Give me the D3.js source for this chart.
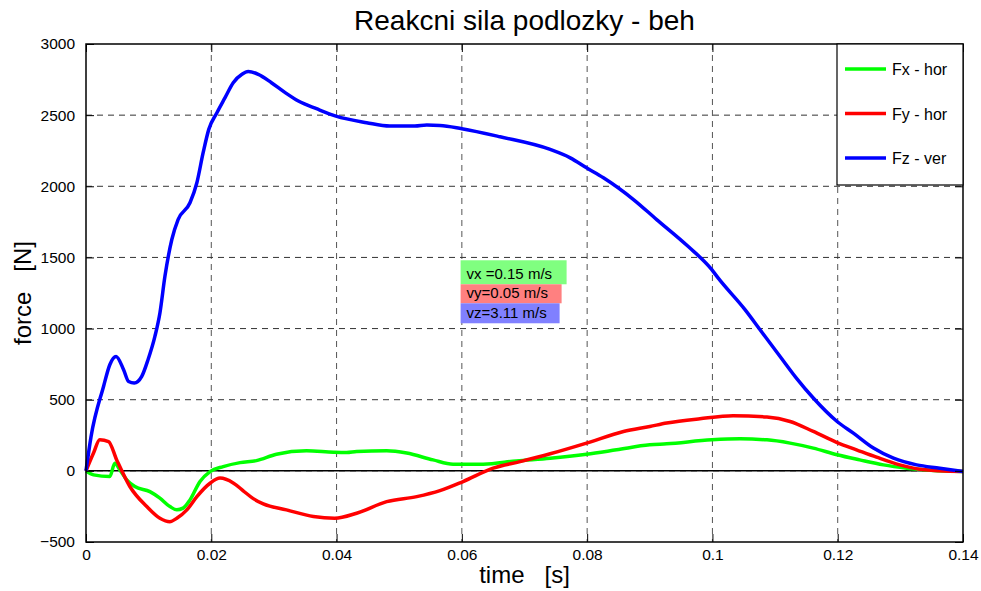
<!DOCTYPE html>
<html>
<head>
<meta charset="utf-8">
<script src="https://cdn.jsdelivr.net/npm/d3@7"></script>
<style>
  body { margin: 0; background: #fff; }
  text { font-family: Arial, "Liberation Sans", sans-serif; }
</style>
</head>
<body>
<div id="chart"></div>
<script>
// Data (time in s, force in N)
var fzTime = [0, 0.0008, 0.0028, 0.0038, 0.0048, 0.006, 0.0068, 0.0077, 0.0089, 0.0099, 0.011, 0.0118, 0.0126, 0.0137, 0.0147, 0.0166, 0.0177, 0.0187, 0.0196, 0.0209, 0.0222, 0.0235, 0.0249, 0.0259, 0.0275, 0.0296, 0.0318, 0.0339, 0.0368, 0.0399, 0.0448, 0.0485, 0.0525, 0.0544, 0.0565, 0.06, 0.0661, 0.0741, 0.0773, 0.0799, 0.0826, 0.0874, 0.0911, 0.0961, 0.0999, 0.1009, 0.1052, 0.1076, 0.1108, 0.1134, 0.1161, 0.1199, 0.1225, 0.1257, 0.1289, 0.1326, 0.1363, 0.14];
var fzValues = [0, 239, 593, 746, 804, 711, 628, 617, 664, 781, 945, 1110, 1367, 1626, 1766, 1884, 2025, 2236, 2400, 2517, 2623, 2728, 2787, 2806, 2787, 2728, 2658, 2599, 2545, 2493, 2447, 2423, 2423, 2430, 2428, 2405, 2348, 2259, 2200, 2130, 2060, 1907, 1766, 1578, 1414, 1356, 1133, 992, 804, 652, 512, 347, 265, 160, 89, 42, 19, -5];

var fyTime = [0, 0.0012, 0.0022, 0.0036, 0.0049, 0.007, 0.0097, 0.0118, 0.0134, 0.0145, 0.0161, 0.0177, 0.0198, 0.0214, 0.0235, 0.0251, 0.0267, 0.0283, 0.032, 0.0363, 0.0397, 0.0432, 0.048, 0.0528, 0.0565, 0.0602, 0.065, 0.0693, 0.0741, 0.0799, 0.0858, 0.09, 0.0927, 0.098, 0.1033, 0.1087, 0.1124, 0.1161, 0.1199, 0.123, 0.1262, 0.1299, 0.1331, 0.14];
var fyValues = [0, 125, 218, 206, 77, -110, -251, -333, -357, -333, -274, -181, -87, -51, -85, -140, -195, -232, -274, -321, -333, -298, -216, -181, -139, -75, 19, 65, 120, 195, 277, 312, 336, 366, 387, 378, 347, 277, 199, 148, 96, 42, 12, -5];

var fxTime = [0, 0.0012, 0.0038, 0.0046, 0.0054, 0.0065, 0.0078, 0.0102, 0.0118, 0.0134, 0.0145, 0.0155, 0.0166, 0.0182, 0.0198, 0.0219, 0.0246, 0.0272, 0.0304, 0.0352, 0.0395, 0.0416, 0.0432, 0.048, 0.0512, 0.0554, 0.0586, 0.0634, 0.0687, 0.0741, 0.0799, 0.0847, 0.09, 0.0927, 0.0999, 0.1044, 0.1087, 0.1124, 0.1161, 0.1199, 0.1235, 0.1273, 0.131, 0.14];
var fxValues = [0, -28, -40, 54, 7, -63, -110, -146, -192, -251, -274, -262, -204, -75, -5, 30, 58, 72, 117, 141, 131, 129, 136, 141, 125, 77, 47, 47, 70, 89, 117, 148, 183, 190, 218, 225, 218, 195, 160, 113, 77, 42, 19, -5];

var xTicks = [0, 0.02, 0.04, 0.06, 0.08, 0.1, 0.12, 0.14];
var yTicks = [-500, 0, 500, 1000, 1500, 2000, 2500, 3000];
var seriesNames = ["Fx - hor", "Fy - hor", "Fz - ver"];
var seriesColors = ["#00ff00", "#ff0000", "#0000ff"];
var noteLabels = ["vx =0.15 m/s", "vy=0.05 m/s", "vz=3.11 m/s"];
var noteColors = ["#80ff80", "#ff8080", "#8080ff"];

var svgWidth = 981, svgHeight = 591;
var margin = { top: 44, right: 18, bottom: 49, left: 86 };
var width = svgWidth - margin.left - margin.right;
var height = svgHeight - margin.top - margin.bottom;

var svg = d3.select("#chart").append("svg")
  .attr("width", svgWidth)
  .attr("height", svgHeight);

var chart = svg.append("g")
  .attr("transform", "translate(" + margin.left + "," + margin.top + ")");

var x = d3.scaleLinear().domain([0, 0.14]).range([0, width]);
var y = d3.scaleLinear().domain([-500, 3000]).range([height, 0]);

// grid lines (dashed)
chart.selectAll(".vgrid").data(xTicks.slice(1, -1)).enter().append("line")
  .attr("x1", function(d) { return x(d); }).attr("x2", function(d) { return x(d); })
  .attr("y1", 0).attr("y2", height)
  .attr("stroke", "#555").attr("stroke-dasharray", "6,5");
chart.selectAll(".hgrid").data(yTicks.slice(1, -1)).enter().append("line")
  .attr("y1", function(d) { return y(d); }).attr("y2", function(d) { return y(d); })
  .attr("x1", 0).attr("x2", width)
  .attr("stroke", "#333").attr("stroke-dasharray", "6,5");

// zero line
chart.append("line")
  .attr("x1", 0).attr("x2", width)
  .attr("y1", y(0)).attr("y2", y(0))
  .attr("stroke", "#000").attr("stroke-width", 1.5);

// series
var line = d3.line()
  .x(function(d) { return x(d[0]); })
  .y(function(d) { return y(d[1]); })
  .curve(d3.curveMonotoneX);

var seriesData = [
  d3.zip(fxTime, fxValues),
  d3.zip(fyTime, fyValues),
  d3.zip(fzTime, fzValues)
];
seriesData.forEach(function(s, i) {
  chart.append("path")
    .datum(s)
    .attr("d", line)
    .attr("fill", "none")
    .attr("stroke", seriesColors[i])
    .attr("stroke-width", 3.5)
    .attr("stroke-linejoin", "round");
});

// axes with inward ticks
var bottomAxis = d3.axisBottom(x).tickValues(xTicks).tickSize(-8).tickPadding(7)
  .tickFormat(function(d) { return String(+d.toFixed(2)); });
var leftAxis = d3.axisLeft(y).tickValues(yTicks).tickSize(-8).tickPadding(11)
  .tickFormat(d3.format("d"));
var topAxis = d3.axisTop(x).tickValues(xTicks).tickSize(-8).tickFormat("");
var rightAxis = d3.axisRight(y).tickValues(yTicks).tickSize(-8).tickFormat("");

function styleAxis(g) {
  g.select(".domain").remove();
  g.selectAll("line").attr("stroke", "#000");
  g.selectAll("text").attr("font-size", 15.5).attr("fill", "#000")
    .attr("font-family", "Arial, 'Liberation Sans', sans-serif");
}
chart.append("g").attr("transform", "translate(0," + height + ")").call(bottomAxis).call(styleAxis);
chart.append("g").call(leftAxis).call(styleAxis);
chart.append("g").call(topAxis).call(styleAxis);
chart.append("g").attr("transform", "translate(" + width + ",0)").call(rightAxis).call(styleAxis);

// axis box
chart.append("rect")
  .attr("width", width).attr("height", height)
  .attr("fill", "none").attr("stroke", "#000").attr("stroke-width", 1.5);

// annotation box with velocities
var noteX = x(0.0598), noteY = y(1480);
noteLabels.forEach(function(t, i) {
  var rowH = [24, 19, 20][i];
  var rowTop = noteY + [0, 24, 43][i];
  var rowW = [106, 101, 99][i];
  chart.append("rect")
    .attr("x", noteX).attr("y", rowTop)
    .attr("width", rowW).attr("height", rowH)
    .attr("fill", noteColors[i]);
  chart.append("text")
    .attr("x", noteX + 6).attr("y", rowTop + rowH - 5)
    .attr("font-size", 15).attr("fill", "#000")
    .text(t);
});

// legend
var legend = svg.append("g").attr("transform", "translate(837,44)");
legend.append("rect")
  .attr("width", 126).attr("height", 141)
  .attr("fill", "#fff").attr("stroke", "#000").attr("stroke-width", 1.2);
seriesNames.forEach(function(name, i) {
  var ly = 25 + i * 44.5;
  legend.append("line")
    .attr("x1", 8).attr("x2", 49).attr("y1", ly).attr("y2", ly)
    .attr("stroke", seriesColors[i]).attr("stroke-width", 3.5);
  legend.append("text")
    .attr("x", 55).attr("y", ly + 6)
    .attr("font-size", 16).attr("fill", "#000")
    .text(name);
});

// title and axis labels
svg.append("text")
  .attr("x", margin.left + width / 2).attr("y", 30)
  .attr("text-anchor", "middle").attr("font-size", 28)
  .text("Reakcni sila podlozky - beh");

svg.append("text")
  .attr("x", margin.left + width / 2).attr("y", 583)
  .attr("text-anchor", "middle").attr("font-size", 24)
  .attr("xml:space", "preserve")
  .text("time   [s]");

svg.append("text")
  .attr("transform", "translate(31," + (margin.top + height / 2) + ") rotate(-90)")
  .attr("text-anchor", "middle").attr("font-size", 24)
  .attr("xml:space", "preserve")
  .text("force   [N]");
</script>
</body>
</html>
